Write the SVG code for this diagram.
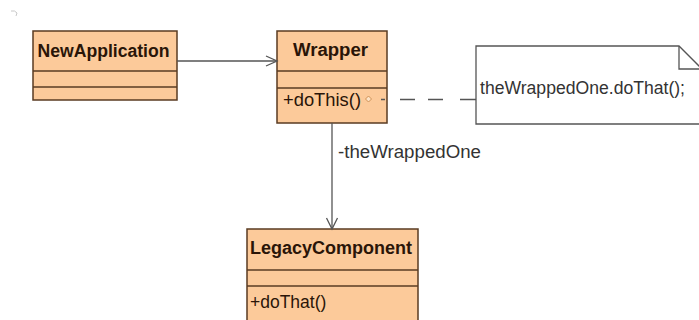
<svg xmlns="http://www.w3.org/2000/svg" width="699" height="320" viewBox="0 0 699 320">
  <style>
    .box { fill: #fcca9a; stroke: #5a3b22; stroke-width: 1.5; }
    .sep { stroke: #5a3b22; stroke-width: 1.5; }
    .title { font-family: "Liberation Sans", Arial, sans-serif; font-weight: bold; font-size: 17.5px; fill: #2a1508; }
    .member { font-family: "Liberation Sans", Arial, sans-serif; font-size: 17.5px; fill: #2a1508; }
    .label { font-family: "Liberation Sans", Arial, sans-serif; font-size: 17.5px; fill: #333; }
    .edge { fill: none; stroke: #555; stroke-width: 1.3; }
    .note { fill: #fff; stroke: #555; stroke-width: 1.3; }
  </style>
  <rect width="699" height="320" fill="#fff"/>
  <!-- small corner mark -->
  <path d="M11 11 q4 -1 6 2 M17 13 l-1 3" fill="none" stroke="#c8c8c8" stroke-width="1"/>

  <g id="NewApplication">
    <rect class="box" x="33" y="31" width="144" height="69"/>
    <line class="sep" x1="33" y1="71" x2="177" y2="71"/>
    <line class="sep" x1="33" y1="87" x2="177" y2="87"/>
    <text class="title" x="37.5" y="57" textLength="132" lengthAdjust="spacingAndGlyphs">NewApplication</text>
  </g>

  <g id="Wrapper">
    <rect class="box" x="277" y="31" width="110" height="92"/>
    <line class="sep" x1="277" y1="71" x2="387" y2="71"/>
    <line class="sep" x1="277" y1="88" x2="387" y2="88"/>
    <text class="title" x="293" y="56" textLength="75" lengthAdjust="spacingAndGlyphs">Wrapper</text>
    <text class="member" x="283" y="106" textLength="78" lengthAdjust="spacingAndGlyphs">+doThis()</text>
    <!-- operation marker -->
    <path d="M368.5 96 L371.5 99 L368.5 102 L365.5 99 Z" fill="#fde3c6" stroke="#c8884a" stroke-width="0.9"/>
  </g>

  <g id="LegacyComponent">
    <rect class="box" x="247" y="229" width="171" height="100"/>
    <line class="sep" x1="247" y1="270" x2="418" y2="270"/>
    <line class="sep" x1="247" y1="286" x2="418" y2="286"/>
    <text class="title" x="250" y="254" textLength="162" lengthAdjust="spacingAndGlyphs">LegacyComponent</text>
    <text class="member" x="250" y="308">+doThat()</text>
  </g>

  <g id="note">
    <path class="note" d="M476 46 H679 L701 68 V124 H476 Z"/>
    <path class="edge" d="M679 46 V69 H701"/>
    <text class="label" x="480" y="94" textLength="205" lengthAdjust="spacingAndGlyphs">theWrappedOne.doThat();</text>
  </g>

  <g id="connectors">
    <!-- NewApplication -> Wrapper -->
    <line class="edge" x1="177" y1="61" x2="277" y2="61"/>
    <polyline class="edge" points="266,56 277,61 266,66"/>
    <!-- Wrapper -> LegacyComponent -->
    <line class="edge" x1="332" y1="123" x2="332" y2="229"/>
    <polyline class="edge" points="326.5,218 332,229 337.5,218"/>
    <text class="label" x="338" y="158" textLength="143" lengthAdjust="spacingAndGlyphs">-theWrappedOne</text>
    <!-- note anchor -->
    <path class="edge" d="M381 99.5 H385 M400 99.5 H415 M428 99.5 H443 M460 99.5 H476"/>
  </g>
</svg>
